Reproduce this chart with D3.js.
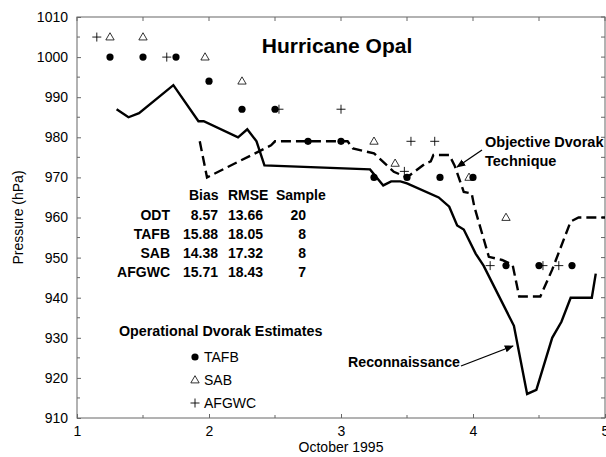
<!DOCTYPE html>
<html>
<head>
<meta charset="utf-8">
<script src="https://cdn.jsdelivr.net/npm/d3@7"></script>
<style>
  body { margin: 0; background: #fff; }
  text { font-family: "Liberation Sans", Arial, sans-serif; fill: #000; }
</style>
</head>
<body>
<div id="chart"></div>
<script>
// Reconnaissance (solid) and objective Dvorak (dashed), [day of Oct 1995, hPa]
const recon = [[1.30,987],[1.39,985],[1.47,986],[1.73,993],[1.92,984],[1.96,984],[2.22,980],[2.29,982],
  [2.36,979],[2.42,973],[3.22,972],[3.32,968],[3.38,969],[3.45,969],[3.50,968.5],[3.74,965],[3.82,962.7],
  [3.88,958],[3.93,957],[4.02,951],[4.08,948],[4.31,933],[4.41,916],[4.48,917],[4.60,930],[4.67,934],
  [4.74,940],[4.90,940],[4.93,946]];
const odt = [[1.93,979],[1.985,970],[2.47,978],[2.5,979],[3.05,979],[3.09,977.2],[3.25,976],[3.40,971.4],
  [3.50,970],[3.64,973.5],[3.68,974],[3.70,975.6],[3.82,975.6],[3.86,973],[3.93,966.4],[3.99,966],
  [4.01,962.7],[4.12,950.2],[4.22,949.4],[4.30,948.2],[4.35,940.3],[4.51,940.3],[4.60,947],[4.74,959],
  [4.80,960],[5.0,960]];
// operational estimates
const tafb = [[1.25,1000],[1.5,1000],[1.75,1000],[2.0,994],[2.25,987],[2.5,987],[2.75,979],[3.0,979],
  [3.25,970],[3.5,970],[3.75,970],[4.0,970],[4.25,948],[4.5,948],[4.75,948]];
const sab = [[1.25,1005],[1.5,1005],[1.97,1000],[2.25,994],[3.25,979],[3.41,973.5],[3.97,970],[4.25,960]];
const afgwc = [[1.15,1005],[1.68,1000],[2.53,987],[3.0,987],[3.53,979],[3.71,979],[3.48,971.5],
  [4.13,948],[4.53,948],[4.65,948]];

const statCols = ["Bias", "RMSE", "Sample"];
const statRows = ["ODT", "TAFB", "SAB", "AFGWC"];
const bias = ["8.57", "15.88", "14.38", "15.71"];
const rmse = ["13.66", "18.05", "17.32", "18.43"];
const sample = ["20", "8", "8", "7"];

const legendNames = ["TAFB", "SAB", "AFGWC"];
const yTicks = d3.range(910, 1011, 10);
const xTicks = [1, 2, 3, 4, 5];

const W = 606, H = 457;
const svg = d3.select("#chart").append("svg").attr("width", W).attr("height", H);

const x = d3.scaleLinear().domain([1, 5]).range([77, 605]);
const y = d3.scaleLinear().domain([910, 1010]).range([418, 17]);

// frame
const axisCol = "#666";
svg.append("rect")
  .attr("x", x(1)).attr("y", y(1010))
  .attr("width", x(5) - x(1)).attr("height", y(910) - y(1010))
  .attr("fill", "none").attr("stroke", axisCol).attr("stroke-width", 1);

// left axis labels + inward ticks
svg.append("g")
  .attr("transform", "translate(" + x(1) + ",0)")
  .call(d3.axisLeft(y).tickValues(yTicks).tickSize(-4).tickPadding(9).tickFormat(d3.format("d")))
  .call(g => g.select(".domain").remove())
  .call(g => g.selectAll("line").attr("stroke", axisCol))
  .call(g => g.selectAll("text").style("font-size", "14px").attr("font-family", null));

// minor ticks on left and right
const minorY = d3.range(910, 1011, 5);
svg.append("g").selectAll("line").data(minorY).enter().append("line")
  .attr("x1", x(5)).attr("x2", x(5) - 4)
  .attr("y1", d => y(d)).attr("y2", d => y(d))
  .attr("stroke", axisCol);
svg.append("g").selectAll("line").data(minorY.filter(d => d % 10 != 0)).enter().append("line")
  .attr("x1", x(1)).attr("x2", x(1) + 3)
  .attr("y1", d => y(d)).attr("y2", d => y(d))
  .attr("stroke", axisCol);

// bottom axis
svg.append("g")
  .attr("transform", "translate(0," + y(910) + ")")
  .call(d3.axisBottom(x).tickValues(xTicks).tickSize(-4).tickPadding(8).tickFormat(d3.format("d")))
  .call(g => g.select(".domain").remove())
  .call(g => g.selectAll("line").attr("stroke", axisCol))
  .call(g => g.selectAll("text").style("font-size", "14px").attr("font-family", null));

const minorX = d3.range(1, 5.01, 0.5);
svg.append("g").selectAll("line").data(minorX).enter().append("line")
  .attr("x1", d => x(d)).attr("x2", d => x(d))
  .attr("y1", y(1010)).attr("y2", y(1010) + 4)
  .attr("stroke", axisCol);
svg.append("g").selectAll("line").data(minorX.filter(d => d % 1 != 0)).enter().append("line")
  .attr("x1", d => x(d)).attr("x2", d => x(d))
  .attr("y1", y(910)).attr("y2", y(910) - 3)
  .attr("stroke", axisCol);

// axis titles
svg.append("text")
  .attr("transform", "translate(23," + ((y(910) + y(1010)) / 2) + ") rotate(-90)")
  .attr("text-anchor", "middle").style("font-size", "14px")
  .text("Pressure (hPa)");
svg.append("text")
  .attr("x", x(3)).attr("y", 452)
  .attr("text-anchor", "middle").style("font-size", "14px")
  .text("October 1995");

// lines
const line = d3.line().x(d => x(d[0])).y(d => y(d[1]));
svg.append("path").datum(recon).attr("d", line)
  .attr("fill", "none").attr("stroke", "#000").attr("stroke-width", 2.4)
  .attr("stroke-linejoin", "miter");
svg.append("path").datum(odt).attr("d", line)
  .attr("fill", "none").attr("stroke", "#000").attr("stroke-width", 2.4)
  .attr("stroke-dasharray", "10,5");

// markers
const tri = d3.symbol().type(d3.symbolTriangle).size(30);
function drawCircle(g, px, py) {
  g.append("circle").attr("cx", px).attr("cy", py).attr("r", 3.6).attr("fill", "#000");
}
function drawTri(g, px, py) {
  g.append("path").attr("d", tri()).attr("transform", "translate(" + px + "," + (py + 0.5) + ")")
    .attr("fill", "none").attr("stroke", "#000").attr("stroke-width", 0.8);
}
function drawPlus(g, px, py) {
  g.append("path").attr("d", "M" + (px - 4.5) + "," + py + "H" + (px + 4.5) + "M" + px + "," + (py - 4.5) + "V" + (py + 4.5))
    .attr("stroke", "#000").attr("stroke-width", 0.9);
}
const marks = svg.append("g");
afgwc.forEach(d => drawPlus(marks, x(d[0]), y(d[1])));
sab.forEach(d => drawTri(marks, x(d[0]), y(d[1])));
tafb.forEach(d => drawCircle(marks, x(d[0]), y(d[1])));

// title
svg.append("text")
  .attr("x", 337).attr("y", 53).attr("text-anchor", "middle")
  .style("font-size", "21px").style("font-weight", "bold")
  .text("Hurricane Opal");

// stats table
const tbl = svg.append("g").style("font-size", "14px").style("font-weight", "bold");
const headLeft = [189, 228, 276];
const colRight = [218, 263, 306];
const colText = [bias, rmse, sample];
statCols.forEach((c, i) => {
  tbl.append("text").attr("x", headLeft[i]).attr("y", 200).text(c);
});
statRows.forEach((r, j) => {
  const yy = 220 + j * 19;
  tbl.append("text").attr("x", 170).attr("y", yy).attr("text-anchor", "end").text(r);
  colText.forEach((col, i) => {
    tbl.append("text").attr("x", colRight[i]).attr("y", yy)
      .attr("text-anchor", "end").text(col[j]);
  });
});

// legend
svg.append("text").attr("x", 119).attr("y", 336)
  .style("font-size", "14.3px").style("font-weight", "bold")
  .text("Operational Dvorak Estimates");
const leg = svg.append("g");
legendNames.forEach((n, i) => {
  const ly = 357 + i * 23;
  if (i == 0) drawCircle(leg, 195, ly);
  if (i == 1) drawTri(leg, 195, ly);
  if (i == 2) drawPlus(leg, 195, ly);
  leg.append("text").attr("x", 204).attr("y", ly + 5).style("font-size", "14px").text(n);
});

// annotations
svg.append("defs").append("marker")
  .attr("id", "arr").attr("viewBox", "0 0 10 10").attr("refX", 9).attr("refY", 5)
  .attr("markerWidth", 7).attr("markerHeight", 7).attr("orient", "auto")
  .append("path").attr("d", "M0,1L10,5L0,9z").attr("fill", "#000");

svg.append("text").attr("x", 485).attr("y", 147)
  .style("font-size", "14.5px").style("font-weight", "bold").text("Objective Dvorak");
svg.append("text").attr("x", 485).attr("y", 166)
  .style("font-size", "14.5px").style("font-weight", "bold").text("Technique");
svg.append("line").attr("x1", 482).attr("y1", 150).attr("x2", 457).attr("y2", 167)
  .attr("stroke", "#000").attr("stroke-width", 1.3).attr("marker-end", "url(#arr)");

svg.append("text").attr("x", 348).attr("y", 367)
  .style("font-size", "14.2px").style("font-weight", "bold").text("Reconnaissance");
svg.append("line").attr("x1", 461).attr("y1", 366).attr("x2", 513).attr("y2", 346)
  .attr("stroke", "#000").attr("stroke-width", 1.3).attr("marker-end", "url(#arr)");
</script>
</body>
</html>
